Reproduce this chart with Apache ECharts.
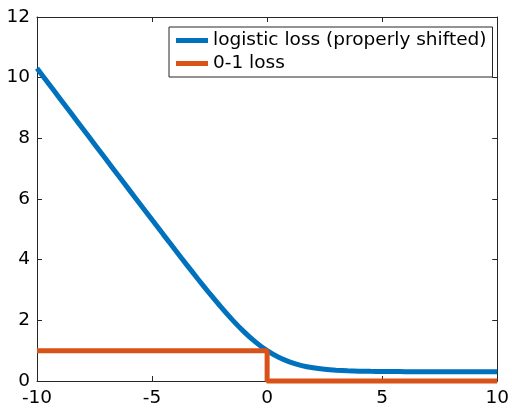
<!DOCTYPE html>
<html><head><meta charset="utf-8">
<script src="https://cdn.jsdelivr.net/npm/echarts@6/dist/echarts.min.js"></script>
<style>html,body{margin:0;padding:0;background:#fff}#c{width:512px;height:408px}</style>
</head><body><div id="c"></div>
<script>
const xTicks = [-10, -5, 0, 5, 10];
const yTicks = [0, 2, 4, 6, 8, 10, 12];
const seriesNames = ['logistic loss (properly shifted)', '0-1 loss'];
const logisticX = [-10,-9.5,-9,-8.5,-8,-7.5,-7,-6.5,-6,-5.5,-5,-4.5,-4,-3.5,-3,-2.5,-2,-1.5,-1,-0.5,0,0.5,1,1.5,2,2.5,3,3.5,4,4.5,5,5.5,6,6.5,7,7.5,8,8.5,9,9.5,10];
const logisticY = [10.307,9.807,9.307,8.807,8.307,7.808,7.308,6.808,6.309,5.811,5.314,4.818,4.325,3.837,3.356,2.886,2.434,2.008,1.620,1.281,1.000,0.781,0.620,0.508,0.434,0.386,0.356,0.337,0.325,0.318,0.314,0.311,0.309,0.308,0.308,0.308,0.307,0.307,0.307,0.307,0.307];
const zeroOneX = [-10, 0, 0, 10];
const zeroOneY = [1, 1, 0, 0];

const font = 'DejaVu Sans';
const axisColor = '#262626';
const chart = echarts.init(document.getElementById('c'), null, {renderer: 'canvas'});
const pair = (xs, ys) => xs.map((x, i) => [x, ys[i]]);
const xAxisBase = {
  type: 'value', min: -10, max: 10, interval: 5,
  axisLine: {show: true, onZero: false, lineStyle: {color: axisColor, width: 1}},
  axisTick: {show: true, inside: true, length: 5, lineStyle: {color: axisColor}},
  splitLine: {show: false}
};
const yAxisBase = {
  type: 'value', min: 0, max: 12, interval: 2,
  axisLine: {show: true, onZero: false, lineStyle: {color: axisColor, width: 1}},
  axisTick: {show: true, inside: true, length: 5, lineStyle: {color: axisColor}},
  splitLine: {show: false}
};
chart.setOption({
  animation: false,
  backgroundColor: '#fff',
  grid: {left: 37, top: 17, right: 12, bottom: 26},
  xAxis: [
    Object.assign({}, xAxisBase, {position: 'bottom',
      axisLabel: {show: true, margin: 8, color: '#000', fontFamily: font, fontSize: 18.5,
        formatter: v => xTicks.includes(v) ? String(v) : ''}}),
    Object.assign({}, xAxisBase, {position: 'top', axisLabel: {show: false}})
  ],
  yAxis: [
    Object.assign({}, yAxisBase, {position: 'left',
      axisLabel: {show: true, margin: 7, color: '#000', fontFamily: font, fontSize: 18.5,
        formatter: v => yTicks.includes(v) ? String(v) : ''}}),
    Object.assign({}, yAxisBase, {position: 'right', axisLabel: {show: false}})
  ],
  legend: {
    orient: 'vertical', left: 169, top: 27,
    data: seriesNames,
    icon: 'rect', itemWidth: 32, itemHeight: 5, itemGap: 2,
    padding: [3, 6, 3, 7],
    borderColor: axisColor, borderWidth: 1, backgroundColor: '#fff', borderRadius: 0,
    textStyle: {fontFamily: font, fontSize: 18.5, color: '#000', lineHeight: 21}
  },
  series: [
    {name: seriesNames[0], type: 'line', data: pair(logisticX, logisticY), showSymbol: false, symbol: 'none',
      smooth: 0.2, clip: false, lineStyle: {color: '#0072BD', width: 5}, itemStyle: {color: '#0072BD'}, z: 2},
    {name: seriesNames[1], type: 'line', data: pair(zeroOneX, zeroOneY), showSymbol: false, symbol: 'none',
      clip: false, lineStyle: {color: '#D95319', width: 5}, itemStyle: {color: '#D95319'}, z: 3}
  ]
});
</script></body></html>
